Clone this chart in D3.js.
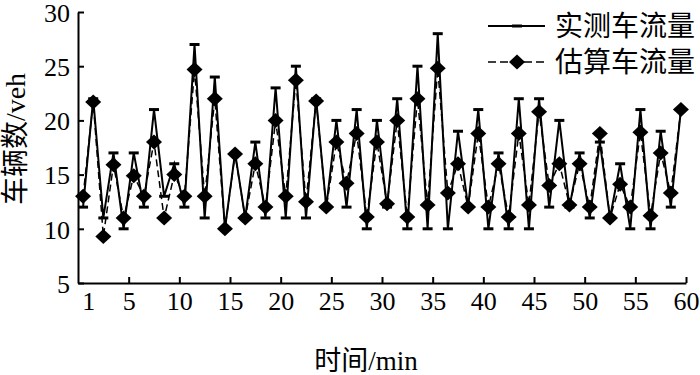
<!DOCTYPE html>
<html>
<head>
<meta charset="utf-8">
<script src="https://cdn.jsdelivr.net/npm/d3@7"></script>
<style>
  body { margin: 0; background: #fff; }
  svg text { font-family: "Liberation Serif", "Noto Sans CJK SC", serif; fill: #000; }
  .axis path, .axis line { stroke: #000; stroke-width: 2; }
</style>
</head>
<body>
<div id="wrapper"></div>
<script>
// data (minute 1..60)
const minutes = d3.range(1, 61)
const measured = [12, 22, 11, 17, 10, 17, 12, 21, 13, 16, 12, 27, 11, 24, 10, 17, 11, 18, 11, 23,
  11, 25, 11, 22, 12, 20, 12, 21, 10, 20, 12, 22, 10, 25, 10, 28, 10, 19, 12, 21,
  10, 17, 10, 22, 10, 22, 12, 20, 12, 17, 11, 18, 11, 16, 10, 21, 10, 19, 12, 21]
const estimated = [13, 21.7, 9.3, 15.9, 11, 14.9, 13, 18, 11, 15, 13, 24.7, 13, 22, 10, 16.9, 11, 16, 12, 20,
  13, 23.7, 12.5, 21.8, 12, 18, 14.2, 18.8, 11.1, 18, 12.3, 20, 11.1, 22, 12.2, 24.8, 13.3, 16, 12, 18.8,
  12, 16, 11.1, 18.8, 12.2, 20.8, 14, 16, 12.2, 16, 12, 18.8, 11, 14.1, 12, 18.9, 11.2, 17, 13.3, 21]
const xTicks = [1, 5, 10, 15, 20, 25, 30, 35, 40, 45, 50, 55, 60]
const yTicks = [5, 10, 15, 20, 25, 30]
const seriesNames = ["实测车流量", "估算车流量"]

const dimensions = {
  width: 700,
  height: 375,
  margin: { top: 12, right: 14, bottom: 92, left: 78 },
}
dimensions.boundedWidth = dimensions.width - dimensions.margin.left - dimensions.margin.right
dimensions.boundedHeight = dimensions.height - dimensions.margin.top - dimensions.margin.bottom

const svg = d3.select("#wrapper")
  .append("svg")
    .attr("width", dimensions.width)
    .attr("height", dimensions.height)

const bounds = svg.append("g")
    .attr("transform", `translate(${dimensions.margin.left}, ${dimensions.margin.top})`)

// scales
const xScale = d3.scaleLinear()
  .domain([0, 60])
  .range([0, dimensions.boundedWidth])

const yScale = d3.scaleLinear()
  .domain([5, 30])
  .range([dimensions.boundedHeight, 0])

// in the original the markers sit half a minute left of the ticks
const xPos = i => xScale(minutes[i] - 0.5)

const diamond = "M0,-7.5L8,0L0,7.5L-8,0Z"

// measured series: solid line with flat bar markers
const lineGenerator = d3.line()
  .x((d, i) => xPos(i))
  .y(d => yScale(d))

bounds.append("path")
    .attr("d", lineGenerator(measured))
    .attr("fill", "none")
    .attr("stroke", "#000")
    .attr("stroke-width", 2)

bounds.append("g")
  .selectAll("line")
  .data(measured)
  .join("line")
    .attr("x1", (d, i) => xPos(i) - 5)
    .attr("x2", (d, i) => xPos(i) + 5)
    .attr("y1", d => yScale(d))
    .attr("y2", d => yScale(d))
    .attr("stroke", "#000")
    .attr("stroke-width", 3)

// estimated series: dashed line with diamonds
bounds.append("path")
    .attr("d", lineGenerator(estimated))
    .attr("fill", "none")
    .attr("stroke", "#000")
    .attr("stroke-width", 1.5)
    .attr("stroke-dasharray", "7,4")

bounds.append("g")
  .selectAll("path")
  .data(estimated)
  .join("path")
    .attr("d", diamond)
    .attr("transform", (d, i) => `translate(${xPos(i)}, ${yScale(d)})`)
    .attr("fill", "#000")

// axes
const xAxis = bounds.append("g")
    .attr("class", "axis")
    .attr("transform", `translate(0, ${dimensions.boundedHeight})`)
  .call(d3.axisBottom(xScale).tickValues(xTicks).tickSize(-6).tickSizeOuter(0).tickPadding(9))

xAxis.selectAll(".tick").filter(d => d === 1).select("line").remove()

const yAxis = bounds.append("g")
    .attr("class", "axis")
  .call(d3.axisLeft(yScale).tickValues(yTicks).tickSize(-6).tickSizeOuter(0).tickPadding(8))

yAxis.selectAll("text").attr("dy", "0.36em")

svg.selectAll(".axis text")
    .attr("font-size", 26)
    .style("font-family", "'Liberation Serif', serif")

// axis titles
svg.append("text")
    .attr("transform", "translate(15, 139) rotate(-90)")
    .attr("text-anchor", "middle")
    .attr("dominant-baseline", "central")
    .attr("font-size", 28)
    .text("车辆数/veh")

svg.append("text")
    .attr("x", 366)
    .attr("y", 361)
    .attr("text-anchor", "middle")
    .attr("dominant-baseline", "central")
    .attr("font-size", 27)
    .text("时间/min")

// legend
const legend = svg.append("g")
    .attr("transform", "translate(488, 26)")

legend.append("line")
    .attr("x1", 0).attr("x2", 57)
    .attr("stroke", "#000").attr("stroke-width", 2)
legend.append("line")
    .attr("x1", 24).attr("x2", 34)
    .attr("stroke", "#000").attr("stroke-width", 3)

legend.append("line")
    .attr("x1", 0).attr("x2", 57)
    .attr("y1", 36).attr("y2", 36)
    .attr("stroke", "#000").attr("stroke-width", 1.5)
    .attr("stroke-dasharray", "8,4")
legend.append("path")
    .attr("d", diamond)
    .attr("transform", "translate(29, 36)")
    .attr("fill", "#000")

legend.selectAll(".label")
  .data(seriesNames)
  .join("text")
    .attr("class", "label")
    .attr("x", 67)
    .attr("y", (d, i) => i * 36)
    .attr("dominant-baseline", "central")
    .attr("font-size", 28)
    .text(d => d)
</script>
</body>
</html>
